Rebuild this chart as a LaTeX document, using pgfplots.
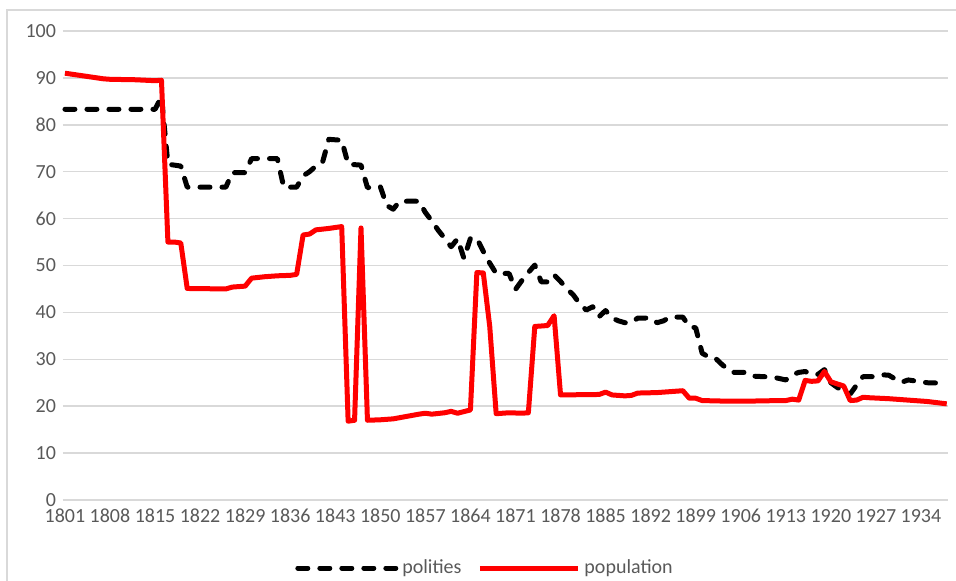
\documentclass[border=0pt]{standalone}
\usepackage{fontspec}
\setmainfont{Carlito}
\usepackage{pgfplots}
\pgfplotsset{compat=1.18}
\definecolor{gridgray}{HTML}{D9D9D9}
\definecolor{txtgray}{HTML}{595959}
\definecolor{popred}{HTML}{FF0000}
\begin{document}
\begin{tikzpicture}
\begin{axis}[
  scale only axis, width=442.5pt, height=234.5pt,
  xmin=1800.7, xmax=1938.2, ymin=0, ymax=100,
  ytick={0,10,...,100}, xtick={1801,1808,...,1934},
  ymajorgrids, grid style={gridgray, line width=0.75pt},
  axis line style={draw=none}, major tick length=0pt,
  tick label style={font=\fontsize{10}{12}\selectfont, text=txtgray},
  /pgf/number format/assume math mode=true,
  xticklabel style={/pgf/number format/1000 sep={}, yshift=-1pt},
  legend style={at={(0.478,-0.145)}, anchor=center, draw=none, fill=none,
    font=\fontsize{10}{12}\selectfont, text=txtgray, legend columns=2,
    /tikz/every even column/.append style={column sep=6pt},
    legend cell align=left},
  legend image code/.code={\draw[#1] (0pt,0pt) -- (49pt,0pt);},
  clip=false,
]
\addplot[black, line width=2.5pt, dash pattern=on 5pt off 6pt, line cap=round, line join=round] coordinates {
(1801,83.3) (1815,83.3) (1816,86.0) (1817,71.6) (1818,71.4) (1819,71.2) (1820,66.7) (1826,66.7)
(1827,69.8) (1829,69.8) (1830,72.8) (1834,72.8) (1835,66.7) (1837,66.7) (1838,69.1) (1839,70.0)
(1840,71.2) (1841,71.9) (1842,76.9) (1844,76.7) (1845,71.6) (1847,71.4) (1848,66.6) (1850,66.8)
(1851,62.8) (1852,62.0) (1853,63.7) (1856,63.7) (1857,61.3) (1858,59.5) (1859,57.5) (1860,55.8)
(1861,54.0) (1862,55.7) (1863,51.5) (1864,55.8) (1865,55.8) (1866,53.0) (1867,50.5) (1868,48.3)
(1870,48.3) (1871,44.9) (1872,46.8) (1873,48.5) (1874,50.1) (1875,46.5) (1876,46.5) (1877,48.0)
(1878,46.6) (1879,45.0) (1880,43.7) (1881,41.8) (1882,40.5) (1883,41.2) (1884,39.1) (1885,40.4)
(1886,38.8) (1887,38.2) (1888,37.8) (1889,37.8) (1890,38.8) (1892,38.8) (1893,37.8) (1894,38.2)
(1895,39.0) (1897,39.0) (1898,37.0) (1899,36.7) (1900,31.3) (1901,30.5) (1902,30.3) (1903,29.0)
(1904,27.8) (1905,27.2) (1907,27.2) (1908,26.4) (1911,26.2) (1912,25.9) (1913,25.6) (1914,26.7)
(1915,27.2) (1916,27.4) (1917,26.8) (1918,26.8) (1919,27.8) (1920,25.0) (1921,24.0) (1922,23.2)
(1923,22.6) (1924,24.5) (1925,26.3) (1927,26.3) (1928,26.7) (1929,26.6) (1930,25.8) (1931,25.1)
(1932,25.6) (1933,25.4) (1935,25.0) (1938,24.9)
};
\addlegendentry{polities}
\addplot[popred, line width=2.5pt, line join=round] coordinates {
(1801,91.0) (1803,90.6) (1805,90.2) (1807,89.8) (1808,89.7) (1812,89.6) (1815,89.4) (1816,89.5)
(1817,55.0) (1818,55.0) (1819,54.8) (1820,45.1) (1826,45.0) (1827,45.4) (1829,45.6) (1830,47.3)
(1832,47.6) (1834,47.8) (1836,47.9) (1837,48.1) (1838,56.5) (1839,56.7) (1840,57.6) (1842,57.9)
(1844,58.3) (1845,16.8) (1846,17.0) (1847,58.0) (1848,17.0) (1850,17.1) (1852,17.3) (1854,17.8)
(1856,18.3) (1857,18.5) (1858,18.3) (1860,18.6) (1861,18.9) (1862,18.5) (1864,19.2) (1865,48.5)
(1866,48.4) (1867,37.0) (1868,18.4) (1870,18.6) (1872,18.5) (1873,18.6) (1874,37.0) (1876,37.2)
(1877,39.3) (1878,22.4) (1884,22.5) (1885,23.0) (1886,22.4) (1888,22.2) (1889,22.3) (1890,22.8)
(1893,22.9) (1896,23.2) (1897,23.3) (1898,21.7) (1899,21.7) (1900,21.2) (1903,21.1) (1908,21.1)
(1912,21.2) (1913,21.2) (1914,21.5) (1915,21.3) (1916,25.5) (1917,25.3) (1918,25.4) (1919,27.4)
(1920,25.2) (1922,24.3) (1923,21.2) (1924,21.3) (1925,21.9) (1926,21.8) (1929,21.6) (1931,21.4)
(1933,21.2) (1935,21.0) (1938,20.5)
};
\addlegendentry{population}
\end{axis}
\draw[gridgray, line width=0.75pt]
  ([xshift=-28pt,yshift=-40.5pt]current axis.south west) --
  ([xshift=-28pt,yshift=10.5pt]current axis.north west) --
  ([xshift=4pt,yshift=10.5pt]current axis.north east);
\pgfresetboundingbox
\path ([xshift=-31.5pt,yshift=15.5pt]current axis.north west) rectangle
      ([xshift=4pt,yshift=-40.5pt]current axis.south east);
\end{tikzpicture}
\end{document}
